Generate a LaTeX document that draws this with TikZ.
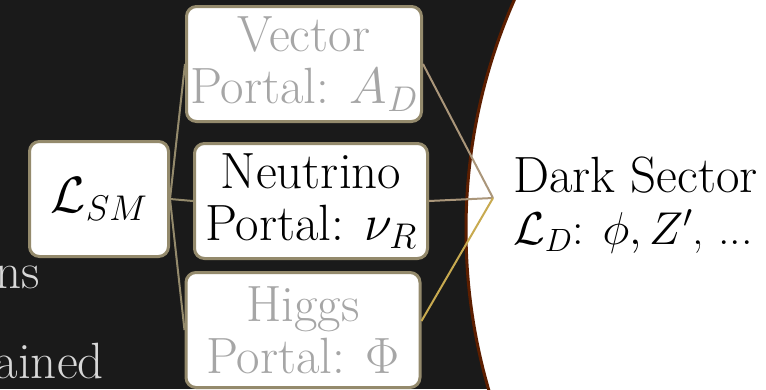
\RequirePackage{fix-cm}
\documentclass[tikz,border=0pt]{standalone}
\usepackage{fontspec}
\usepackage{amsmath}
\usepackage{tikz}

\definecolor{slidebg}{RGB}{26,26,26}
\definecolor{boxline}{RGB}{148,138,108}
\definecolor{tanline}{RGB}{170,150,122}
\definecolor{goldline}{RGB}{200,170,80}
\definecolor{rimline}{RGB}{92,30,0}
\definecolor{fadetext}{RGB}{166,166,166}
\definecolor{slidetext}{RGB}{216,216,216}

\begin{document}
\begin{tikzpicture}[x=1pt, y=-1pt, font=\fontsize{51}{52}\selectfont,
  portal/.style={draw=boxline, line width=3pt, fill=white, rounded corners=10pt,
    align=center, minimum height=115pt, inner sep=0pt},
  link/.style={line width=2pt}]
  \useasboundingbox (0,0) rectangle (766,389);
  \clip (0,0) rectangle (766,389);
  \fill[slidebg] (0,0) rectangle (766,389);
  % leftover slide text
  \node[text=slidetext, anchor=base east, inner sep=0pt] (t0) at (40,288) {ns};
  \node[text=slidetext, anchor=base east, inner sep=0pt] (t1) at (104,378) {ained};
  % dark sector disc
  \draw[rimline, line width=3pt, fill=white] (1036,230) circle (570);
  \node[portal, minimum width=139pt] (lsm) at (99,199) {$\mathcal{L}_{SM}$};
  \node[portal, minimum width=235pt, text=fadetext] (vec) at (304,64) {Vector\\Portal: $A_D$};
  \node[portal, minimum width=233pt] (neu) at (311,201) {Neutrino\\Portal: $\nu_R$};
  \node[portal, minimum width=234pt, text=fadetext] (hig) at (303,330) {Higgs\\Portal: $\Phi$};
  \coordinate (ds) at (493,198);
  \draw[link, boxline] (lsm.east) -- (vec.west);
  \draw[link, boxline] (lsm.east) -- (neu.west);
  \draw[link, boxline] (lsm.east) -- (hig.west);
  \draw[link, tanline] (vec.east) -- (ds);
  \draw[link, tanline] (neu.east) -- (ds);
  \draw[link, goldline] ([yshift=9pt]hig.east) -- (ds);
  \node[anchor=west, align=left, inner sep=0pt] (dark) at (513,205)
    {Dark Sector\\{\fontsize{46}{52}\selectfont$\mathcal{L}_D$: $\phi, Z'$, ...}};
\end{tikzpicture}
\end{document}
